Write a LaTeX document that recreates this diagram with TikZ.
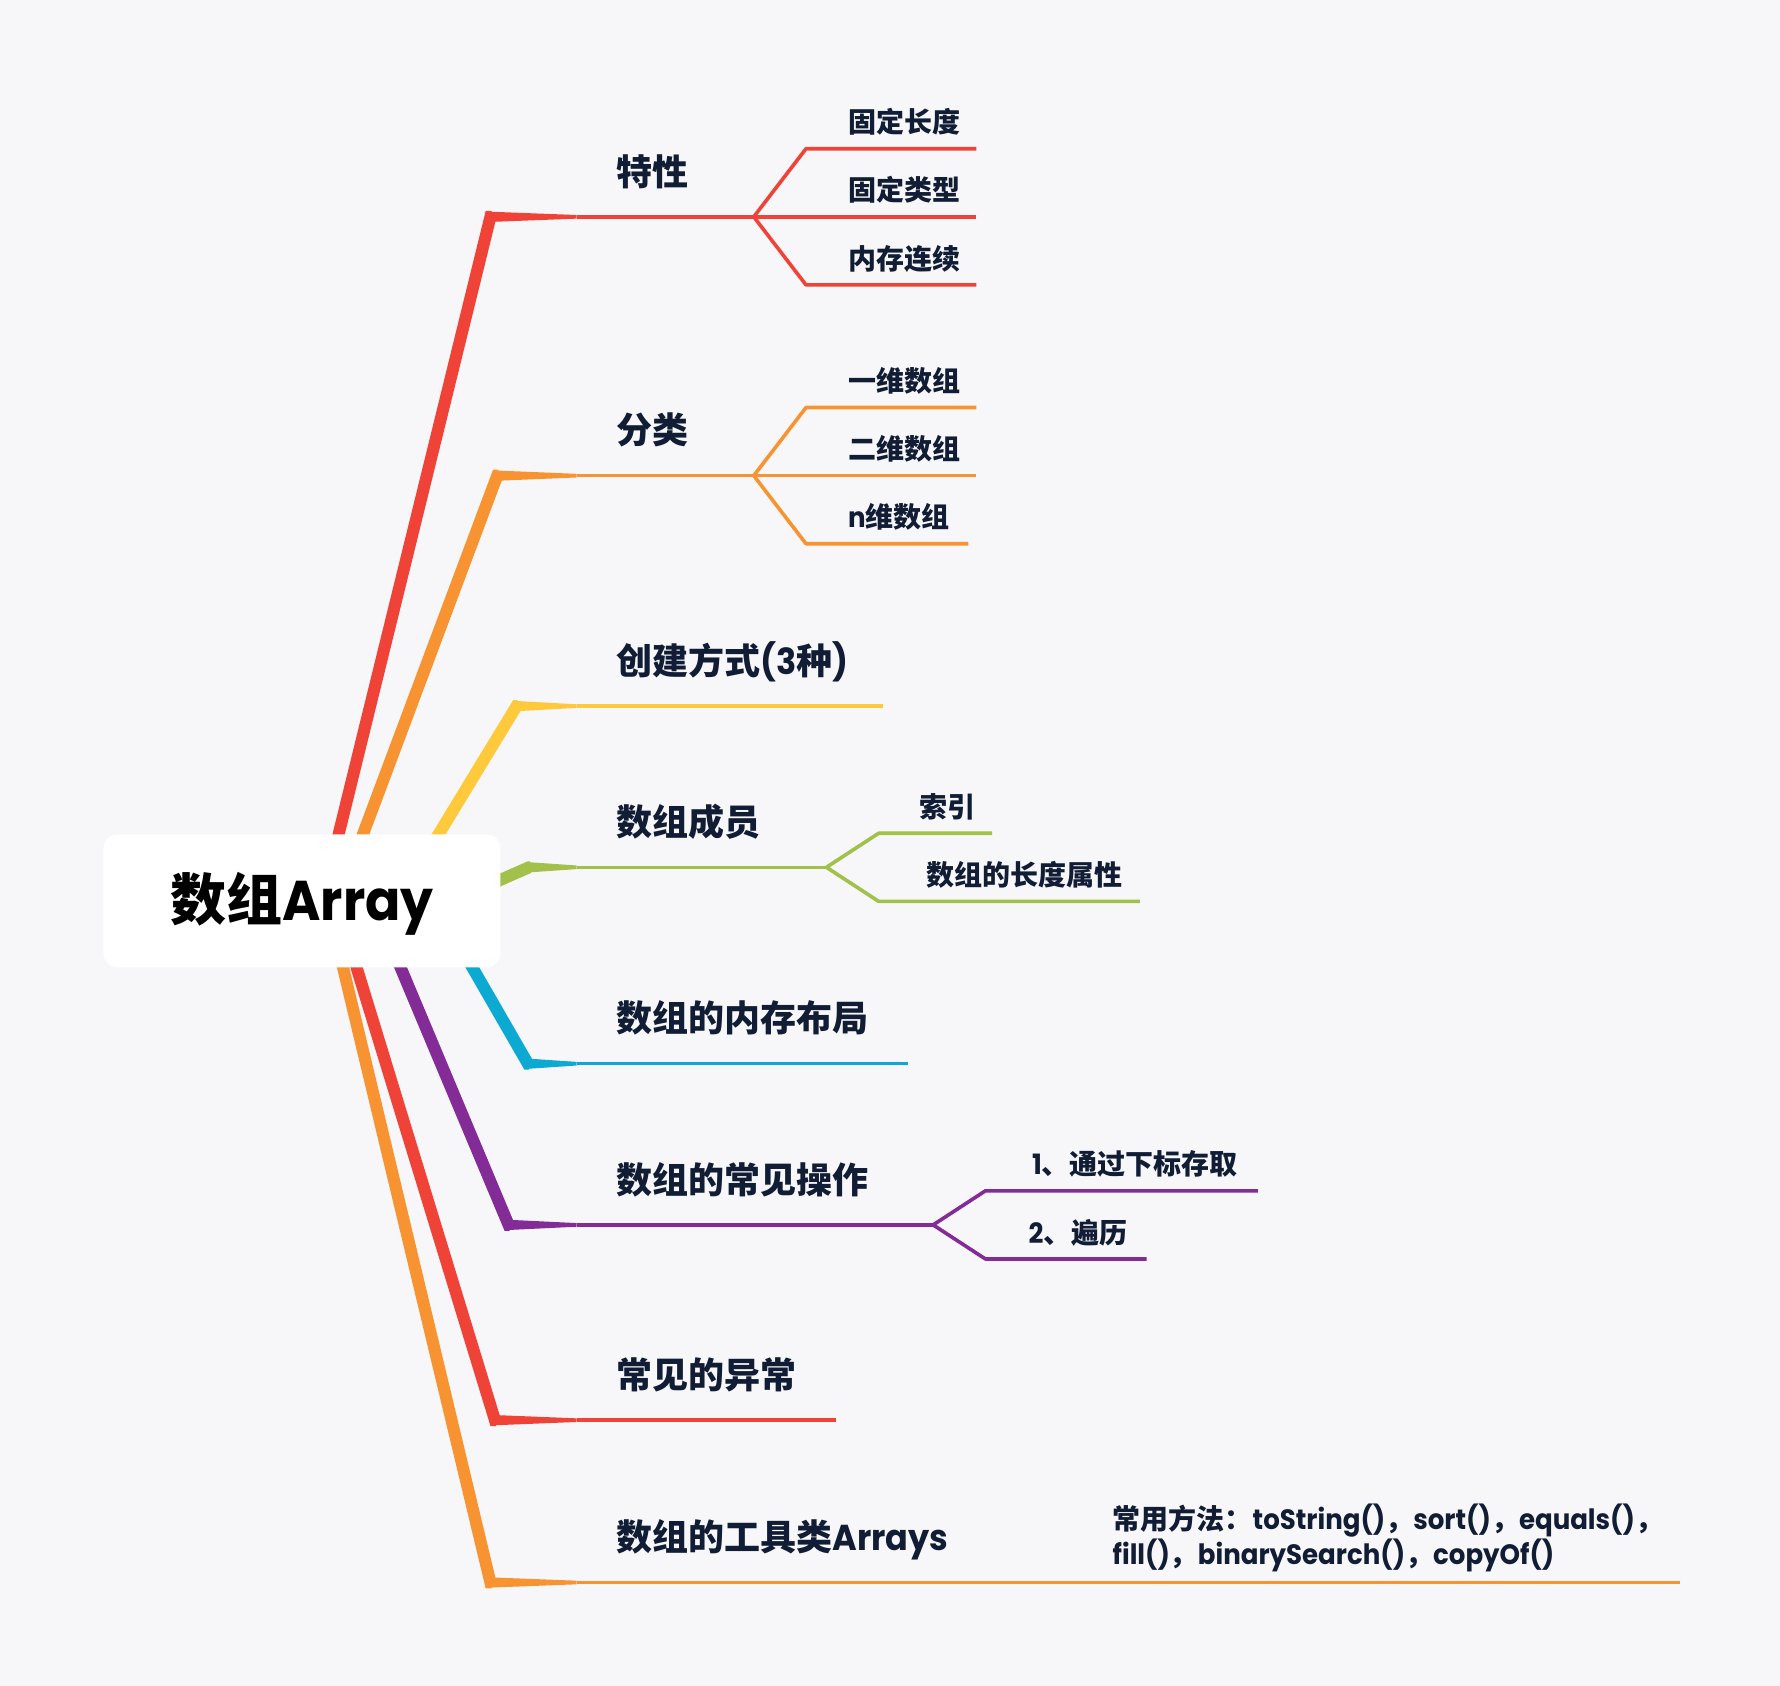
\documentclass[tikz,border=0pt]{standalone}
\usepackage{fontspec}
\setmainfont{Poppins}[FakeStretch=0.93]
\newfontfamily\cjk{Noto Sans CJK SC}
\newcommand{\zh}[1]{{\cjk #1}}
\usetikzlibrary{calc, positioning}

\definecolor{mapred}{RGB}{240,67,56}
\definecolor{maporange}{RGB}{247,148,49}
\definecolor{mapyellow}{RGB}{255,201,60}
\definecolor{mapgreen}{RGB}{162,193,74}
\definecolor{mapblue}{RGB}{12,170,211}
\definecolor{mappurple}{RGB}{131,43,150}
\definecolor{mapink}{RGB}{17,29,53}
\definecolor{mapbg}{RGB}{247,247,250}

\tikzset{
    trunk/.style={draw=#1, line width=12pt, line join=miter},
    twig/.style={draw=#1, line width=3.6pt, line join=round},
    topic/.style={font=\bfseries\fontsize{36}{40}\selectfont, text=mapink, anchor=base west, inner sep=0pt},
    subtopic/.style={font=\bfseries\fontsize{28}{35}\selectfont, text=mapink, anchor=base west, inner sep=0pt, align=left},
    rootbox/.style={fill=white, rounded corners=14pt, minimum width=397pt, minimum height=133pt, font=\bfseries\fontsize{56}{60}\selectfont, text=black, text height=50pt, text depth=10pt}
}
\newcommand{\branchtaper}[3]{\fill[#1] ($(#2)+(0,-4.5)$) -- ($(#2)+(0,4.5)$) -- ($(#3)+(0,1.6)$) -- ($(#3)+(0,-1.6)$) -- cycle;}

\begin{document}
\begin{tikzpicture}[x=1.1352pt, y=-1.1352pt]

\path[fill=mapbg, use as bounding box] (0,0) rectangle (1568,1485);

% trunk ends and elbows
\coordinate (o1) at (284,793); \coordinate (e1) at (432,191);  \coordinate (t1) at (508,191);
\coordinate (o2) at (298,793); \coordinate (e2) at (438,419);  \coordinate (t2) at (508,419);
\coordinate (o3) at (351,793); \coordinate (e3) at (455,622);  \coordinate (t3) at (508,622);
\coordinate (o4) at (400,793); \coordinate (e4) at (466,764);  \coordinate (t4) at (508,764);
\coordinate (o5) at (382,793); \coordinate (e5) at (465,937);  \coordinate (t5) at (508,937);
\coordinate (o6) at (328,793); \coordinate (e6) at (448,1079); \coordinate (t6) at (508,1079);
\coordinate (o7) at (296,793); \coordinate (e7) at (436,1251); \coordinate (t7) at (508,1251);
\coordinate (o8) at (288,793); \coordinate (e8) at (432,1394); \coordinate (t8) at (508,1394);

\draw[trunk=mapred] (o1) -- (e1) -- ++(1,0);
\draw[trunk=maporange] (o2) -- (e2) -- ++(1,0);
\draw[trunk=mapyellow] (o3) -- (e3) -- ++(1,0);
\draw[trunk=mapgreen] (o4) -- (e4) -- ++(1,0);
\draw[trunk=mapblue] (o5) -- (e5) -- ++(1,0);
\draw[trunk=mappurple] (o6) -- (e6) -- ++(1,0);
\draw[trunk=maporange] (o8) -- (e8) -- ++(1,0);
\draw[trunk=mapred] (o7) -- (e7) -- ++(1,0);

\branchtaper{mapred}{e1}{t1}
\branchtaper{maporange}{e2}{t2}
\branchtaper{mapyellow}{e3}{t3}
\branchtaper{mapgreen}{e4}{t4}
\branchtaper{mapblue}{e5}{t5}
\branchtaper{mappurple}{e6}{t6}
\branchtaper{mapred}{e7}{t7}
\branchtaper{maporange}{e8}{t8}

\node[rootbox] (root) at (266,793.5) {\zh{数组}Array};

% 特性
\coordinate (f1) at (664,191);
\coordinate (c11) at (710,131); \coordinate (d11) at (860,131);
\coordinate (d12) at (860,191);
\coordinate (c13) at (710,251); \coordinate (d13) at (860,251);
\draw[twig=mapred] (t1) -- (f1);
\draw[twig=mapred] (f1) -- (c11) -- (d11);
\draw[twig=mapred] (f1) -- (d12);
\draw[twig=mapred] (f1) -- (c13) -- (d13);
\node[topic] (n1) at (543,163) {\zh{特性}};
\node[subtopic] (n11) at (747,117) {\zh{固定长度}};
\node[subtopic] (n12) at (747,177) {\zh{固定类型}};
\node[subtopic] (n13) at (747,237) {\zh{内存连续}};

% 分类
\coordinate (f2) at (664,419);
\coordinate (c21) at (710,359); \coordinate (d21) at (860,359);
\coordinate (d22) at (860,419);
\coordinate (c23) at (710,479); \coordinate (d23) at (853,479);
\draw[twig=maporange] (t2) -- (f2);
\draw[twig=maporange] (f2) -- (c21) -- (d21);
\draw[twig=maporange] (f2) -- (d22);
\draw[twig=maporange] (f2) -- (c23) -- (d23);
\node[topic] (n2) at (543,391) {\zh{分类}};
\node[subtopic] (n21) at (747,345) {\zh{一维数组}};
\node[subtopic] (n22) at (747,405) {\zh{二维数组}};
\node[subtopic] (n23) at (747,465) {n\zh{维数组}};

% 创建方式
\coordinate (f3) at (778,622);
\draw[twig=mapyellow] (t3) -- (f3);
\node[topic] (n3) at (543,594) {\zh{创建方式}(3\zh{种})};

% 数组成员
\coordinate (f4) at (728,764);
\coordinate (c41) at (774,734); \coordinate (d41) at (874,734);
\coordinate (c42) at (774,794); \coordinate (d42) at (1004,794);
\draw[twig=mapgreen] (t4) -- (f4);
\draw[twig=mapgreen] (f4) -- (c41) -- (d41);
\draw[twig=mapgreen] (f4) -- (c42) -- (d42);
\node[topic] (n4) at (543,736) {\zh{数组成员}};
\node[subtopic] (n41) at (810,720) {\zh{索引}};
\node[subtopic] (n42) at (816,780) {\zh{数组的长度属性}};

% 内存布局
\coordinate (f5) at (800,937);
\draw[twig=mapblue] (t5) -- (f5);
\node[topic] (n5) at (543,909) {\zh{数组的内存布局}};

% 常见操作
\coordinate (f6) at (822,1079);
\coordinate (c61) at (868,1049); \coordinate (d61) at (1108,1049);
\coordinate (c62) at (868,1109); \coordinate (d62) at (1010,1109);
\draw[twig=mappurple] (t6) -- (f6);
\draw[twig=mappurple] (f6) -- (c61) -- (d61);
\draw[twig=mappurple] (f6) -- (c62) -- (d62);
\node[topic] (n6) at (543,1051) {\zh{数组的常见操作}};
\node[subtopic] (n61) at (909,1035) {1\zh{、通过下标存取}};
\node[subtopic] (n62) at (906,1095) {2\zh{、遍历}};

% 异常
\coordinate (f7) at (736,1251);
\draw[twig=mapred] (t7) -- (f7);
\node[topic] (n7) at (543,1223) {\zh{常见的异常}};

% 工具类
\coordinate (f8) at (1480,1394);
\draw[twig=maporange] (t8) -- (f8);
\node[topic] (n8) at (543,1366) {\zh{数组的工具类}Arrays};
\node[subtopic, anchor=west] (n81) at (980,1355) {\zh{常用方法：}toString()\zh{，}sort()\zh{，}equals()\zh{，}\\fill()\zh{，}binarySearch()\zh{，}copyOf()};

\end{tikzpicture}
\end{document}
